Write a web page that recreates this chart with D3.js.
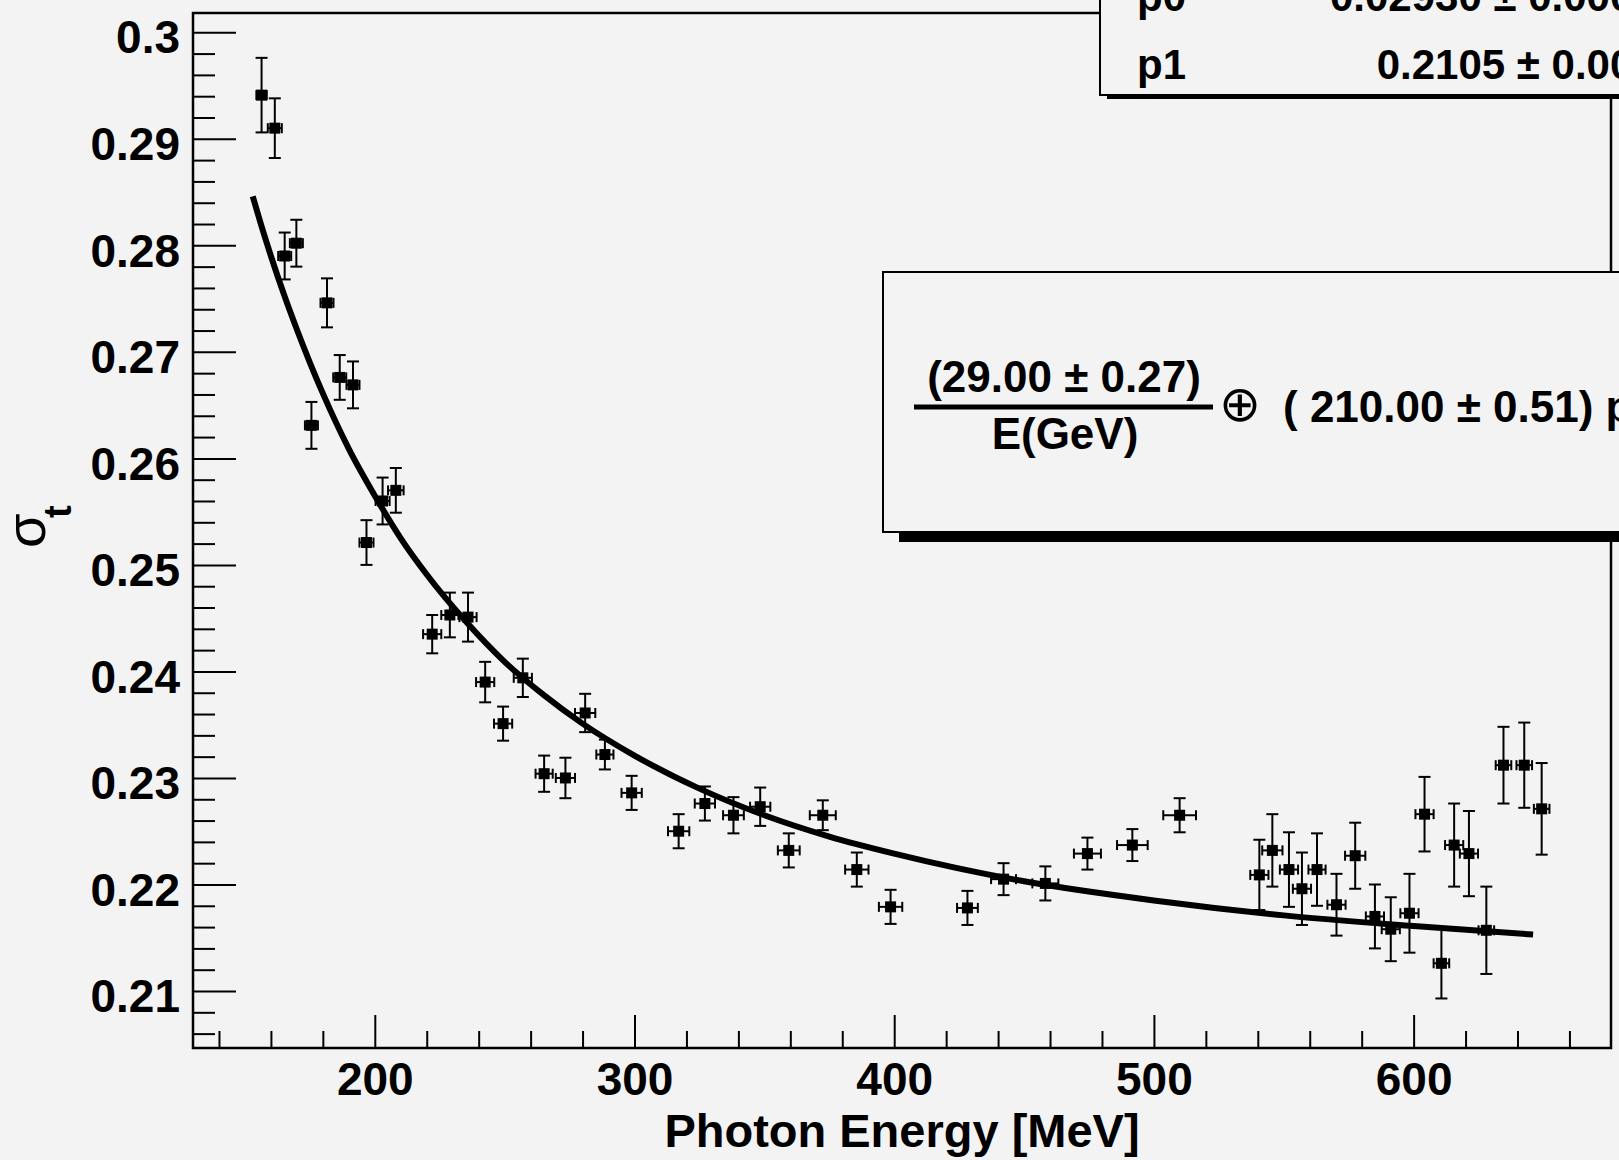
<!DOCTYPE html>
<html>
<head>
<meta charset="utf-8">
<script src="https://d3js.org/d3.v7.min.js"></script>
<style>
  body { margin: 0; background: #f3f3f3; }
  svg { display: block; }
  text { font-family: "Liberation Sans", Arial, Helvetica, sans-serif; }
</style>
</head>
<body>
<div id="chart-container"></div>
<script>
// measured points: photon energy [MeV], sigma_t, and errors
var energy = [156.4, 161.5, 165.3, 169.8, 175.6, 181.6, 186.5, 191.6, 196.8, 203.0,
              208.1, 222.1, 228.9, 235.9, 242.5, 249.4, 257.0, 265.2, 273.4, 281.0,
              288.6, 298.9, 317.0, 327.1, 338.1, 348.4, 359.4, 372.5, 385.6, 398.6,
              428.2, 442.1, 458.2, 474.4, 491.7, 509.9, 540.6, 545.6, 552.0, 557.0,
              562.8, 570.3, 577.5, 585.1, 591.2, 598.4, 604.2, 610.7, 615.6, 621.3,
              628.0, 634.6, 642.6, 649.3];
var sigma = [0.2941, 0.2910, 0.2790, 0.2802, 0.2631, 0.2746, 0.2676, 0.2669, 0.2521, 0.2560,
             0.2570, 0.2435, 0.2453, 0.2451, 0.2390, 0.2351, 0.2394, 0.2304, 0.2300, 0.2361,
             0.2322, 0.2286, 0.2250, 0.2276, 0.2265, 0.2273, 0.2232, 0.2265, 0.2214, 0.2179,
             0.2178, 0.2205, 0.2201, 0.2229, 0.2237, 0.2265, 0.2209, 0.2232, 0.2214, 0.2196,
             0.2214, 0.2181, 0.2227, 0.2170, 0.2158, 0.2173, 0.2266, 0.2126, 0.2237, 0.2229,
             0.2157, 0.2312, 0.2312, 0.2271];
var sigmaErr = [0.0035, 0.0028, 0.0022, 0.0022, 0.0022, 0.0023, 0.0021, 0.0022, 0.0021, 0.0022,
                0.0021, 0.0018, 0.0021, 0.0023, 0.0019, 0.0016, 0.0018, 0.0017, 0.0019, 0.0018,
                0.0014, 0.0016, 0.0016, 0.0016, 0.0017, 0.0018, 0.0016, 0.0014, 0.0016, 0.0016,
                0.0016, 0.0015, 0.0016, 0.0015, 0.0015, 0.0016, 0.0033, 0.0034, 0.0035, 0.0034,
                0.0034, 0.0029, 0.0031, 0.0030, 0.0030, 0.0037, 0.0035, 0.0033, 0.0039, 0.0040,
                0.0041, 0.0036, 0.0040, 0.0043];
var energyErr = [2.0, 2.7, 2.5, 2.5, 2.5, 2.5, 2.5, 2.5, 2.7, 2.7,
                 3.0, 3.5, 3.3, 3.3, 3.5, 3.5, 3.5, 3.3, 3.7, 3.9,
                 3.3, 3.9, 4.1, 3.9, 4.0, 3.9, 4.2, 5.0, 4.5, 4.5,
                 4.0, 4.8, 5.0, 5.2, 5.9, 6.3, 3.5, 3.9, 3.5, 3.5,
                 3.3, 3.5, 3.9, 3.5, 3.5, 3.5, 3.5, 3.0, 3.5, 3.5,
                 3.0, 3.0, 3.0, 3.0];

// fit curve
var fitE = [153, 156, 160, 165, 170, 175, 180, 190, 200, 210, 220, 235, 250, 265,
            280, 300, 325, 350, 375, 400, 450, 500, 550, 600, 646];
var fitSigma = [0.2846, 0.2821, 0.2790, 0.2754, 0.2721, 0.2690, 0.2661, 0.2609, 0.2565, 0.2525,
                0.2491, 0.2447, 0.2409, 0.2378, 0.2351, 0.2321, 0.2290, 0.2265, 0.2245, 0.2229,
                0.2203, 0.2185, 0.2171, 0.2161, 0.2153];

var xMajor = [200, 300, 400, 500, 600];
var xLabels = ["200", "300", "400", "500", "600"];
var yMajor = [0.21, 0.22, 0.23, 0.24, 0.25, 0.26, 0.27, 0.28, 0.29, 0.30];
var yLabels = ["0.21", "0.22", "0.23", "0.24", "0.25", "0.26", "0.27", "0.28", "0.29", "0.3"];

var statNames = ["p0", "p1"];
var statValues = ["0.02930 \u00b1 0.00027", "0.2105 \u00b1 0.0005"];

var W = 1619, H = 1160;
var bg = "#f3f3f3";
var frame = { left: 193, top: 13, right: 1611, bottom: 1048 };

var svg = d3.select("#chart-container").append("svg")
  .attr("width", W)
  .attr("height", H);

svg.append("rect").attr("width", W).attr("height", H).attr("fill", bg);

var x = d3.scaleLinear().domain([130, 676]).range([frame.left, frame.right]);
var y = d3.scaleLinear().domain([0.20465, 0.30181]).range([frame.bottom, frame.top]);

// minor ticks
var xMinor = d3.range(140, 676, 20).filter(function(v) { return xMajor.indexOf(v) < 0; });
var yMinor = d3.range(0, 49).map(function(i) { return +(0.206 + i * 0.002).toFixed(3); })
  .filter(function(v) { return v < 0.3018 && Math.round(v * 1000) % 10 !== 0; });

svg.append("g")
  .attr("transform", "translate(" + frame.left + ",0)")
  .call(d3.axisLeft(y).tickValues(yMinor).tickSize(-22).tickSizeOuter(0).tickFormat(""))
  .call(function(g) { g.select(".domain").remove(); });

var yAxis = svg.append("g")
  .attr("transform", "translate(" + frame.left + ",0)")
  .call(d3.axisLeft(y).tickValues(yMajor).tickSize(-43).tickSizeOuter(0).tickPadding(13)
    .tickFormat(function(d, i) { return yLabels[i]; }));
yAxis.select(".domain").remove();

svg.append("g")
  .attr("transform", "translate(0," + frame.bottom + ")")
  .call(d3.axisBottom(x).tickValues(xMinor).tickSize(-17).tickSizeOuter(0).tickFormat(""))
  .call(function(g) { g.select(".domain").remove(); });

var xAxis = svg.append("g")
  .attr("transform", "translate(0," + frame.bottom + ")")
  .call(d3.axisBottom(x).tickValues(xMajor).tickSize(-33).tickSizeOuter(0).tickPadding(14)
    .tickFormat(function(d, i) { return xLabels[i]; }));
xAxis.select(".domain").remove();

svg.selectAll(".tick line").attr("stroke", "#000").attr("stroke-width", 2);
svg.selectAll(".tick text")
  .attr("fill", "#000")
  .style("font-size", "46px")
  .style("font-weight", "bold")
  .style("font-family", "'Liberation Sans', Arial, sans-serif");
yAxis.selectAll(".tick text").attr("dy", "0.45em");

// frame
svg.append("rect")
  .attr("x", frame.left).attr("y", frame.top)
  .attr("width", frame.right - frame.left).attr("height", frame.bottom - frame.top)
  .attr("fill", "none").attr("stroke", "#000").attr("stroke-width", 2.5);

// axis titles
svg.append("text")
  .attr("x", (frame.left + frame.right) / 2)
  .attr("y", 1147)
  .attr("text-anchor", "middle")
  .style("font-size", "47px")
  .style("font-weight", "bold")
  .text("Photon Energy [MeV]");

var yt = svg.append("g").attr("transform", "translate(45,548) rotate(-90)");
yt.append("text").attr("x", 0).attr("y", 0)
  .style("font-size", "56px")
  .text("\u03c3");
yt.append("text").attr("x", 30).attr("y", 26)
  .style("font-size", "38px")
  .style("font-weight", "bold")
  .text("t");

// data points with error bars
var pts = energy.map(function(e, i) {
  return { e: e, s: sigma[i], se: sigmaErr[i], ee: energyErr[i] };
});

var cap = 6;
var pg = svg.append("g").attr("stroke", "#000").attr("stroke-width", 2);

pts.forEach(function(d) {
  var cx = x(d.e), cy = y(d.s);
  var y0 = y(d.s - d.se), y1 = y(d.s + d.se);
  var x0 = x(d.e - d.ee), x1 = x(d.e + d.ee);
  pg.append("line").attr("x1", cx).attr("x2", cx).attr("y1", y0).attr("y2", y1);
  pg.append("line").attr("x1", cx - cap).attr("x2", cx + cap).attr("y1", y0).attr("y2", y0);
  pg.append("line").attr("x1", cx - cap).attr("x2", cx + cap).attr("y1", y1).attr("y2", y1);
  pg.append("line").attr("x1", x0).attr("x2", x1).attr("y1", cy).attr("y2", cy);
  pg.append("line").attr("x1", x0).attr("x2", x0).attr("y1", cy - 5).attr("y2", cy + 5);
  pg.append("line").attr("x1", x1).attr("x2", x1).attr("y1", cy - 5).attr("y2", cy + 5);
});

svg.append("g").selectAll("rect")
  .data(pts)
  .enter().append("rect")
  .attr("x", function(d) { return x(d.e) - 5.5; })
  .attr("y", function(d) { return y(d.s) - 5.5; })
  .attr("width", 11).attr("height", 11)
  .attr("fill", "#000");

// fit curve
var line = d3.line()
  .x(function(d, i) { return x(fitE[i]); })
  .y(function(d) { return y(d); })
  .curve(d3.curveMonotoneX);

svg.append("path")
  .datum(fitSigma)
  .attr("d", line)
  .attr("fill", "none")
  .attr("stroke", "#000")
  .attr("stroke-width", 6)
  .attr("stroke-linejoin", "round");

// stats box (runs off the top right corner)
svg.append("rect").attr("x", 1107).attr("y", -100).attr("width", 700).attr("height", 199).attr("fill", "#000");
svg.append("rect").attr("x", 1100).attr("y", -100).attr("width", 700).attr("height", 195)
  .attr("fill", bg).attr("stroke", "#000").attr("stroke-width", 2);

var statY = [11, 79];
statNames.forEach(function(n, i) {
  svg.append("text").attr("x", 1137).attr("y", statY[i])
    .style("font-size", "42px").style("font-weight", "bold").text(n);
  svg.append("text").attr("x", 1680).attr("y", statY[i])
    .attr("text-anchor", "end")
    .style("font-size", "42px").style("font-weight", "bold").text(statValues[i]);
});

// fit legend box
svg.append("rect").attr("x", 899).attr("y", 280).attr("width", 800).attr("height", 262).attr("fill", "#000");
svg.append("rect").attr("x", 883).attr("y", 272).attr("width", 800).attr("height", 260)
  .attr("fill", bg).attr("stroke", "#000").attr("stroke-width", 2);

svg.append("text").attr("x", 1064).attr("y", 392).attr("text-anchor", "middle")
  .style("font-size", "44px").style("font-weight", "bold").text("(29.00 \u00b1 0.27)");
svg.append("line").attr("x1", 914).attr("x2", 1213).attr("y1", 407).attr("y2", 407)
  .attr("stroke", "#000").attr("stroke-width", 5);
svg.append("text").attr("x", 1065).attr("y", 449).attr("text-anchor", "middle")
  .style("font-size", "44px").style("font-weight", "bold").text("E(GeV)");
svg.append("text").attr("x", 1240).attr("y", 421).attr("text-anchor", "middle")
  .style("font-family", "'DejaVu Sans', sans-serif")
  .style("font-weight", "normal")
  .style("font-size", "50px").text("\u2295");
svg.append("text").attr("x", 1283).attr("y", 422)
  .style("font-size", "44px").style("font-weight", "bold").attr("xml:space", "preserve")
  .text("( 210.00 \u00b1 0.51) ps");
</script>
</body>
</html>
